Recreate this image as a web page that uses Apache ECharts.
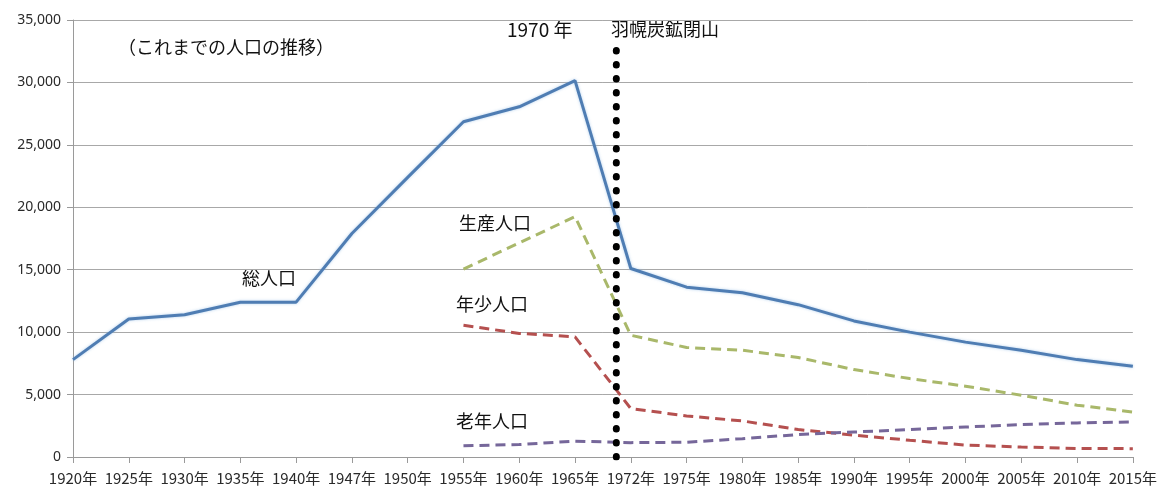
<!DOCTYPE html>
<html>
<head>
<meta charset="utf-8">
<script src="https://cdn.jsdelivr.net/npm/echarts@6/dist/echarts.min.js"></script>
<style>
html,body{margin:0;padding:0;background:#fff;}
#c{width:1160px;height:490px;}
</style>
</head>
<body>
<div id="c"></div>
<script>
const categories = ['1920年','1925年','1930年','1935年','1940年','1947年','1950年','1955年','1960年','1965年','1972年','1975年','1980年','1985年','1990年','1995年','2000年','2005年','2010年','2015年'];
const totalPop   = [7800, 11050, 11400, 12400, 12400, 17900, 22400, 26850, 28050, 30150, 15100, 13600, 13150, 12200, 10900, 10000, 9200, 8550, 7800, 7270];
const workingPop = [null, null, null, null, null, null, null, 15050, 17150, 19250, 9750, 8770, 8550, 7970, 7000, 6280, 5670, 4950, 4150, 3600];
const youngPop   = [null, null, null, null, null, null, null, 10550, 9900, 9620, 3880, 3290, 2890, 2200, 1750, 1340, 950, 800, 680, 670];
const elderlyPop = [null, null, null, null, null, null, null, 900, 1000, 1270, 1150, 1180, 1470, 1800, 2000, 2200, 2400, 2600, 2730, 2800];
const yTicks = [0, 5000, 10000, 15000, 20000, 25000, 30000, 35000];
const closureLine = [[9.74, 0], [9.74, 32600]];

const chart = echarts.init(document.getElementById('c'), null, {renderer:'canvas'});
const jp = '"Noto Sans CJK JP", "Noto Sans", sans-serif';
const labelFont = {fontFamily: jp, fontSize: 18, fill: '#111'};

chart.setOption({
  animation: false,
  backgroundColor: '#fff',
  grid: {left: 73, right: 24, top: 20, bottom: 33},
  xAxis: [{
    type: 'category',
    data: categories,
    boundaryGap: false,
    axisLine: {lineStyle: {color: '#9a9a9a', width: 1}},
    axisTick: {show: true, length: 6, lineStyle: {color: '#9a9a9a'}},
    axisLabel: {interval: 0, margin: 14, color: '#2a2a2a', fontSize: 15, fontFamily: jp},
    splitLine: {show: false}
  }, {
    type: 'value', min: 0, max: categories.length - 1, show: false
  }],
  yAxis: {
    type: 'value',
    min: 0, max: 35000, interval: 5000,
    axisLine: {show: true, lineStyle: {color: '#9a9a9a'}},
    axisTick: {show: true, length: 6, lineStyle: {color: '#9a9a9a'}},
    axisLabel: {
      margin: 12, color: '#2a2a2a', fontSize: 14, fontFamily: '"Noto Sans", sans-serif',
      formatter: v => yTicks.includes(v) ? v.toLocaleString('en-US') : ''
    },
    splitLine: {lineStyle: {color: '#a8a8a8', width: 1}}
  },
  series: [
    {name: '総人口', type: 'line', data: totalPop, symbol: 'none',
     lineStyle: {color: '#4f7db3', width: 3, shadowColor: 'rgba(150,190,230,0.7)', shadowBlur: 3}},
    {name: '生産人口', type: 'line', data: workingPop, symbol: 'none',
     lineStyle: {color: '#a9b86a', width: 3, type: [10, 6]}},
    {name: '年少人口', type: 'line', data: youngPop, symbol: 'none',
     lineStyle: {color: '#b5504f', width: 3, type: [10, 6]}},
    {name: '老年人口', type: 'line', data: elderlyPop, symbol: 'none',
     lineStyle: {color: '#76679a', width: 3, type: [10, 6]}},
    {name: '閉山', type: 'line', xAxisIndex: 1, data: closureLine, symbol: 'none',
     z: 10,
     lineStyle: {color: '#000', width: 7, type: [0.5, 13.5], cap: 'round'}}
  ],
  graphic: [
    {type: 'text', left: 118, top: 38, style: Object.assign({text: '（これまでの人口の推移）'}, labelFont)},
    {type: 'text', left: 507, top: 20, style: Object.assign({text: '1970 年'}, labelFont, {fontSize: 19})},
    {type: 'text', left: 611, top: 20, style: Object.assign({text: '羽幌炭鉱閉山'}, labelFont)},
    {type: 'text', left: 242, top: 269, style: Object.assign({text: '総人口'}, labelFont)},
    {type: 'text', left: 459, top: 214, style: Object.assign({text: '生産人口'}, labelFont)},
    {type: 'text', left: 456, top: 295, style: Object.assign({text: '年少人口'}, labelFont)},
    {type: 'text', left: 456, top: 412, style: Object.assign({text: '老年人口'}, labelFont)}
  ]
});
</script>
</body>
</html>
